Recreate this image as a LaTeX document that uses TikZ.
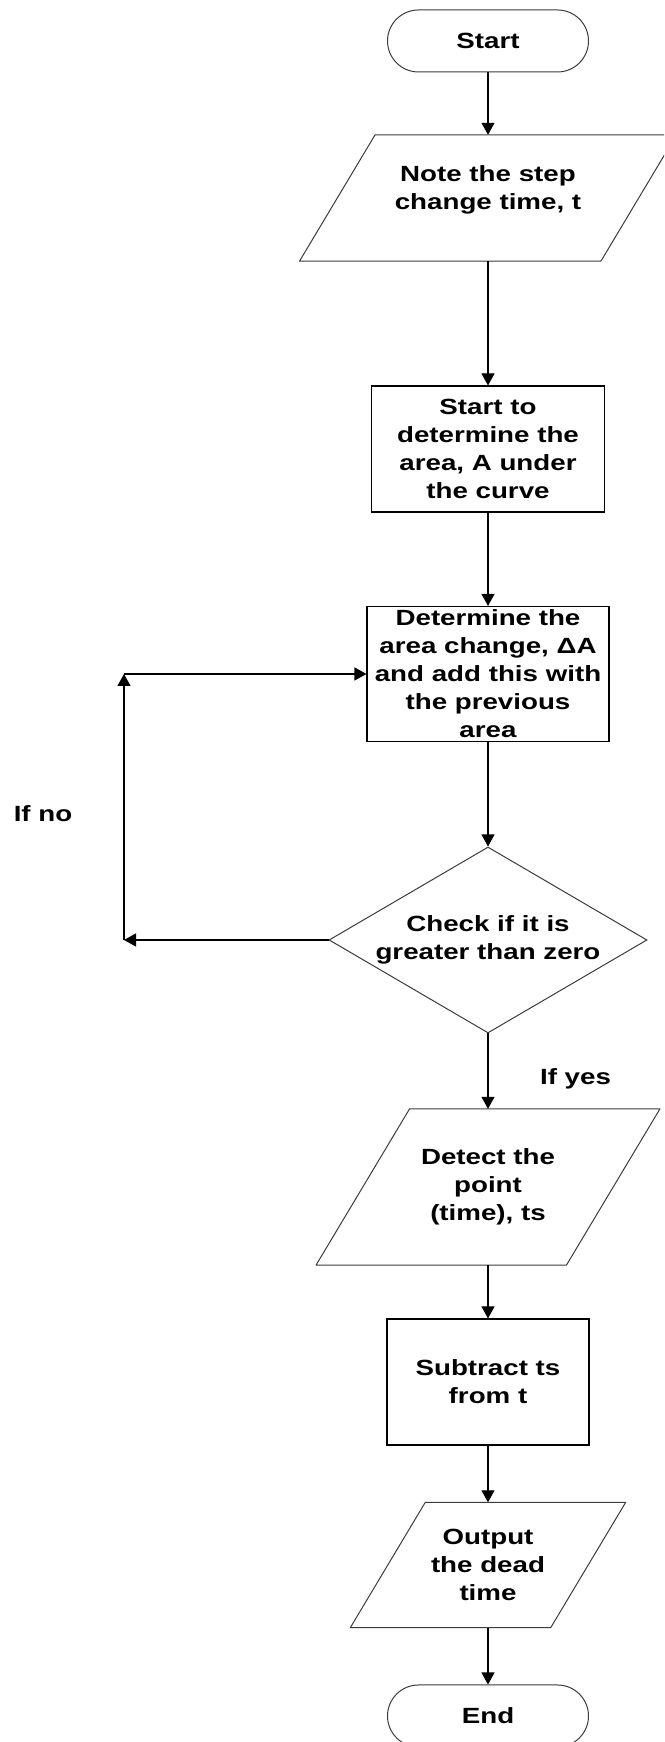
\documentclass[tikz,border=0pt]{standalone}
\usepackage{fontspec}
\setmainfont{Liberation Sans}[FakeStretch=1.26]
\usepackage{tikz}
\usetikzlibrary{shapes.geometric,arrows.meta}

\begin{document}
\begin{tikzpicture}[x=1pt,y=1pt,
  txt/.style={font=\bfseries\fontsize{22}{28}\selectfont,align=center,inner sep=0pt},
  term/.style={txt,draw=edgeColor,line width=1pt,rounded corners=31pt,minimum width=201pt,minimum height=62pt},
  proc/.style={txt,draw=drawColor,line width=1.1pt,minimum width=#1},
  io/.style 2 args={txt,minimum width=#1,minimum height=#2,
    append after command={\pgfextra{\draw[draw=edgeColor,line width=1pt,line join=round]
      ([xshift={0.3*#2}]\tikzlastnode.north west) -- ([xshift={0.3*#2}]\tikzlastnode.north east) --
      ([xshift={-0.3*#2}]\tikzlastnode.south east) -- ([xshift={-0.3*#2}]\tikzlastnode.south west) -- cycle;}}},
  test/.style={txt,draw=edgeColor,line width=1pt,diamond,aspect=1.7,minimum width=318pt,minimum height=186pt},
  flow/.style={draw=drawColor,line width=1.1pt,-{Triangle[width=13pt,length=12pt]}}]
\definecolor{fillColor}{RGB}{255,255,255}
\definecolor{drawColor}{RGB}{0,0,0}
\definecolor{edgeColor}{RGB}{60,60,60}
\path[use as bounding box,fill=fillColor] (0,0) rectangle (664,1742);
\begin{scope}
\path[clip] (0,0) rectangle (664,1742);

% main column
\node[term] (start) at (488,1701) {Start};
\node[io={301pt}{126pt},
  label={[txt,yshift=8pt]center:Note the step\\change time, t}] (note) at (488,1544) {};
\node[proc=233pt,minimum height=126pt] (area) at (488,1293) {Start to\\determine the\\area, A under\\the curve};
\node[proc=242pt,minimum height=135pt] (delta) at (488,1068) {Determine the\\area change, ΔA\\and add this with\\the previous\\area};
\node[test] (check) at (488,802) {Check if it is\\greater than zero};
\node[io={250pt}{156pt}] (detect) at (488,555) {Detect the\\point\\(time), ts};
\node[proc=202pt,minimum height=126pt] (subtract) at (488,360) {Subtract ts\\from t};
\node[io={200pt}{125pt}] (output) at (488,177) {Output\\the dead\\time};
\node[term] (finish) at (488,26) {End};

% loop back
\coordinate (noturn) at (124,802);
\coordinate (noup) at (124,1068);
\node[txt] (ifno) at (43,928) {If no};
\node[txt] (ifyes) at (575.5,663) {If yes};

\draw[flow] (start) -- (note);
\draw[flow] (note) -- (area);
\draw[flow] (area) -- (delta);
\draw[flow] (delta) -- (check);
\draw[flow] (check) -- (detect);
\draw[flow] (detect) -- (subtract);
\draw[flow] (subtract) -- (output);
\draw[flow] (output) -- (finish);
\draw[flow] (check.west) -- (noturn);
\draw[flow] (noturn) -- (noup);
\draw[flow] (noup) -- (delta.west);
\end{scope}
\end{tikzpicture}
\end{document}
